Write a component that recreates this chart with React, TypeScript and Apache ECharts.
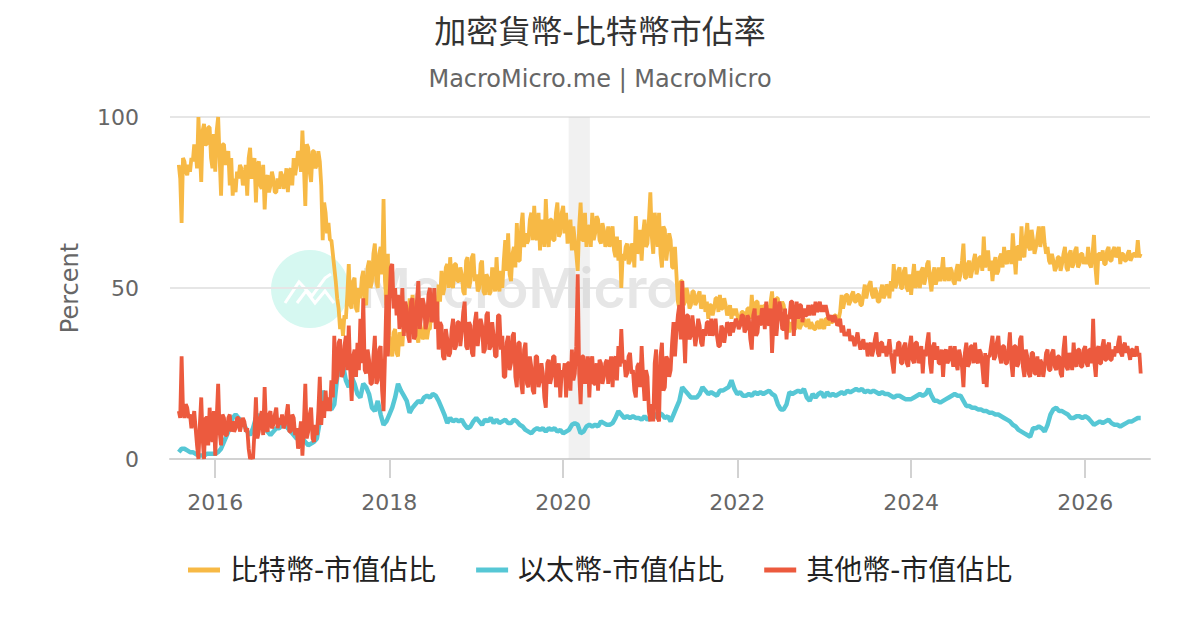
import React, { useEffect, useRef } from "react";
import * as echarts from "echarts";

const TITLE = "加密貨幣-比特幣市佔率";
const SUBTITLE = "MacroMicro.me | MacroMicro";
const SERIES_NAMES = ["比特幣-市值佔比", "以太幣-市值佔比", "其他幣-市值佔比"];
const TICK_YEARS = [2016, 2018, 2020, 2022, 2024, 2026];
const SPAN_YEARS = [2015, 2016, 2017, 2018, 2019, 2020, 2021, 2022, 2023, 2024, 2025, 2026];

const btc2015 = [86, 82, 69, 88, 87, 84, 83, 86, 84, 88, 87, 92, 90, 85, 100, 90, 81, 96, 98, 92, 92, 97, 97, 88, 85, 95];
const btc2016 = [84, 96, 100, 88, 77, 92, 92, 86, 88, 90, 80, 88, 77, 82, 78, 84, 82, 86, 85, 80, 82, 86, 77, 88, 91, 82, 84, 88, 75, 86, 87, 80, 79, 86, 73, 82, 83, 78, 80, 84, 82, 78, 78, 82, 79, 84, 83, 79, 81, 85, 78, 84, 85, 80, 88, 83, 86, 90, 89, 84];
const btc2017 = [96, 86, 74, 92, 91, 84, 81, 90, 90, 85, 86, 90, 87, 80, 64, 75, 72, 66, 69, 64, 64, 60, 56, 52, 47, 44, 38, 41, 36, 42, 41, 48, 57, 45, 44, 52, 53, 44, 43, 50, 47, 53, 55, 46, 45, 56, 58, 50, 52, 60, 63, 52, 50, 60, 62, 54, 76, 52, 45, 60];
const btc2018 = [36, 32, 30, 37, 38, 31, 30, 37, 36, 33, 40, 37, 42, 38, 47, 42, 48, 42, 41, 36, 34, 40, 38, 35, 36, 40, 35, 38, 38, 44, 44, 40, 46, 42, 51, 46, 55, 48, 50, 56, 57, 50, 59, 52, 50, 57, 57, 52, 52, 56, 54, 49, 48, 58, 59, 50, 52, 59, 60, 52];
const btc2019 = [54, 49, 50, 57, 58, 49, 48, 54, 53, 48, 49, 56, 52, 49, 59, 51, 49, 55, 50, 58, 64, 55, 66, 54, 52, 60, 62, 56, 69, 58, 58, 68, 72, 62, 66, 63, 64, 70, 72, 64, 74, 65, 64, 72, 61, 70, 68, 62, 76, 66, 62, 70, 70, 64, 64, 72, 75, 65, 66, 72];
const btc2020 = [74, 66, 72, 63, 66, 70, 61, 68, 64, 60, 55, 68, 75, 64, 64, 72, 62, 68, 68, 62, 72, 64, 66, 71, 70, 64, 63, 69, 67, 62, 64, 68, 62, 66, 68, 61, 59, 65, 58, 64, 50, 60, 58, 62, 63, 57, 58, 63, 62, 56, 71, 60, 62, 67, 58, 66, 70, 62, 63, 70];
const btc2021 = [78, 65, 60, 72, 68, 62, 72, 60, 56, 68, 67, 58, 62, 66, 64, 56, 56, 62, 54, 46, 44, 52, 52, 45, 46, 50, 48, 44, 45, 49, 49, 45, 46, 48, 49, 44, 45, 48, 43, 46, 41, 45, 45, 42, 44, 47, 47, 43, 48, 44, 44, 47, 45, 42, 43, 45, 41, 44, 42, 44];
const btc2022 = [42, 40, 41, 43, 43, 41, 41, 44, 44, 41, 48, 42, 42, 46, 46, 42, 43, 45, 42, 45, 45, 42, 42, 46, 49, 43, 44, 47, 47, 43, 44, 46, 45, 42, 42, 40, 37, 40, 39, 38, 38, 40, 41, 38, 39, 41, 41, 39, 39, 41, 38, 40, 39, 38, 38, 40, 40, 38, 41, 39];
const btc2023 = [38, 41, 41, 39, 42, 40, 40, 42, 42, 40, 41, 43, 48, 44, 46, 48, 48, 45, 46, 48, 49, 46, 46, 48, 48, 45, 45, 48, 51, 47, 49, 51, 52, 48, 47, 50, 49, 46, 46, 49, 51, 47, 48, 51, 50, 47, 52, 49, 57, 50, 51, 55, 56, 50, 50, 55, 56, 50, 49, 54];
const btc2024 = [48, 53, 57, 50, 52, 55, 50, 55, 56, 51, 53, 57, 58, 52, 49, 54, 56, 51, 53, 56, 52, 55, 59, 52, 54, 56, 52, 56, 55, 52, 51, 55, 57, 52, 54, 58, 63, 53, 53, 57, 58, 53, 55, 58, 60, 54, 56, 59, 59, 55, 65, 56, 58, 61, 55, 58, 52, 57, 59, 54];
const btc2025 = [55, 59, 60, 56, 62, 58, 57, 61, 60, 57, 66, 60, 54, 62, 62, 58, 68, 60, 59, 65, 69, 62, 61, 67, 64, 60, 62, 65, 68, 62, 66, 68, 63, 60, 62, 58, 57, 60, 58, 55, 56, 59, 59, 55, 57, 60, 62, 56, 55, 60, 61, 56, 57, 61, 62, 56, 57, 60, 60, 57];
const btc2026 = [59, 57, 62, 57, 56, 60, 65.5, 56, 51, 60, 60, 58, 61, 57, 57, 61, 62, 58, 58, 61, 62, 59, 60, 62, 57, 60, 60, 58, 58, 60, 61, 58, 59, 60, 60, 59, 64, 59, 60];

const eth2015 = [2, 3, 3, 2.5, 2, 2, 1.5, 1, 1, 1, 1.5, 1.5, 1.5];
const eth2016 = [1.5, 2, 3, 5, 7, 9, 12, 13, 12, 11, 10, 8, 7, 9, 12, 13, 11, 9, 8, 7, 8, 9, 9, 10, 10, 9, 8, 7, 6, 6];
const eth2017 = [6, 5, 4, 4.5, 5, 6, 11, 20, 17, 15, 14.5, 16, 24, 26, 27.5, 23, 21, 24, 22, 19, 18, 22, 21, 19, 15, 14, 17, 13, 10, 11];
const eth2018 = [13, 15, 18, 22, 20, 18.5, 17, 13.5, 15, 16, 17, 16.5, 18, 18.5, 18, 19, 18.5, 17, 15, 13, 10.5, 12, 11, 11.5, 11, 11.5, 10, 9, 9.5, 11];
const eth2019 = [12, 11, 10, 11.5, 11, 12, 10.5, 11.5, 10.5, 11, 11.5, 10.5, 10.5, 11.5, 11, 10, 9.5, 8.5, 8, 7.5, 8.5, 9, 8.5, 9, 8, 9, 8.5, 9, 8, 8.5];
const eth2020 = [7.5, 8, 8.5, 10, 10.5, 10, 7.5, 8, 9.5, 10, 9.5, 10, 9.5, 11, 10.5, 10, 10, 10.5, 12, 14, 13, 12, 12.5, 12, 12.5, 12, 12, 11.5, 12.5, 11.5];
const eth2021 = [12, 12, 13, 13.5, 13, 12, 12.5, 11, 13, 15, 17, 21, 20, 19, 18, 18, 18, 19, 21, 20, 19, 19.5, 19, 18.5, 20, 20, 20.5, 21, 23, 20.5];
const eth2022 = [19, 19.5, 18.5, 18.5, 19, 18.5, 19.5, 19, 19.5, 19, 19.5, 20, 19, 18.5, 16, 14.5, 14.5, 16, 19.5, 19, 19.5, 20, 19.5, 20.5, 18, 17, 19, 18, 19, 19.5];
const eth2023 = [18, 19.5, 18.5, 19, 18.5, 19, 19.5, 19, 20, 19.5, 20, 20.5, 20, 20.5, 19.5, 20, 19.5, 20, 19.5, 19, 19.5, 19, 19, 18.5, 18, 18.5, 18.5, 18, 17.5, 17.5];
const eth2024 = [17.5, 18, 18.5, 19, 18.5, 19, 20.5, 18.5, 17, 17, 16.5, 17, 17.5, 18, 18.5, 19, 18.5, 18.5, 17, 15.5, 15.5, 15, 15, 14.5, 14.5, 14, 14, 13.5, 13.5, 13];
const eth2025 = [13, 12.5, 12, 11.5, 11, 10, 9.5, 8.5, 8, 7.5, 7, 6.5, 9, 9, 9.5, 9, 8, 10, 13, 14.5, 15, 14, 14, 13.5, 13, 12, 12, 12.5, 12.5, 12];
const eth2026 = [12.5, 12, 11, 10, 10.5, 11, 10.5, 11, 11.5, 10.5, 10, 10, 9.5, 10, 10.5, 11, 11, 11.5, 12, 12];

const oth2015 = [14, 12, 30, 14, 12, 16, 15, 12, 13, 9, 11, 14, 9, 4, 0, 10, 18, 6, 0, 12, 12, 4, 15, 8, 5, 14];
const oth2016 = [1, 12, 22, 8, 4, 13, 12, 7, 7, 12, 13, 8, 11, 8, 9, 12, 12, 8, 10, 12, 11, 8, 9, 3, 0, 1, 0, 8, 18, 6, 8, 12, 14, 7, 21, 9, 8, 13, 14, 9, 10, 13, 15, 9, 12, 10, 13, 9, 10, 13, 16, 8, 8, 13, 12, 7, 9, 3, 7, 11];
const oth2017 = [1, 10, 22, 6, 8, 13, 15, 6, 5, 10, 7, 14, 24, 10, 17, 12, 20, 14, 18, 14, 23, 18, 36, 22, 24, 34, 35, 24, 25, 33, 36, 26, 39, 26, 17, 30, 32, 24, 34, 26, 41, 28, 47, 26, 25, 32, 29, 22, 22, 30, 36, 22, 23, 32, 33, 20, 14, 30, 48, 30];
const oth2018 = [46, 56, 57, 44, 50, 42, 48, 38, 42, 50, 36, 46, 44, 36, 34, 46, 47, 35, 36, 46, 52, 38, 42, 47, 45, 38, 40, 48, 50, 40, 42, 50, 38, 46, 32, 40, 39, 30, 29, 38, 35, 30, 31, 38, 41, 32, 33, 40, 40, 33, 37, 43, 46, 33, 32, 40, 39, 31, 30, 40];
const oth2019 = [43, 33, 37, 41, 39, 31, 32, 42, 43, 32, 33, 40, 36, 30, 30, 42, 42, 32, 36, 24, 24, 34, 36, 26, 28, 36, 37, 24, 21, 34, 34, 22, 19, 32, 34, 22, 21, 30, 27, 20, 19, 30, 30, 21, 23, 28, 25, 18, 15, 28, 29, 22, 24, 30, 30, 21, 24, 28, 18, 26];
const oth2020 = [24, 28, 18, 28, 28, 20, 32, 23, 25, 33, 54, 25, 16, 30, 30, 22, 26, 30, 18, 28, 30, 22, 22, 28, 20, 29, 28, 22, 24, 28, 29, 22, 27, 30, 21, 29, 30, 23, 33, 27, 38, 28, 29, 24, 25, 30, 31, 25, 26, 20, 18, 27, 28, 21, 33, 24, 17, 26, 24, 14];
const oth2021 = [11, 16, 11, 28, 32, 12, 11, 30, 34, 20, 21, 30, 29, 24, 26, 34, 40, 30, 37, 42, 45, 35, 52, 38, 28, 42, 42, 35, 36, 42, 38, 33, 36, 41, 39, 34, 33, 38, 36, 40, 40, 36, 41, 36, 38, 41, 36, 33, 33, 39, 38, 34, 37, 40, 39, 36, 40, 37, 39, 41];
const oth2022 = [40, 38, 39, 42, 42, 37, 38, 42, 41, 35, 32, 42, 44, 36, 37, 42, 39, 44, 43, 38, 46, 40, 39, 44, 31, 40, 47, 36, 41, 46, 44, 38, 38, 44, 35, 42, 41, 46, 46, 36, 42, 46, 41, 45, 45, 40, 44, 42, 42, 45, 42, 44, 45, 42, 46, 43, 44, 46, 43, 45];
const oth2023 = [43, 45, 43, 41, 41, 42, 40, 42, 41, 39, 39.5, 41, 37, 39, 36, 37, 36, 38, 34.5, 36, 35, 33, 35, 37, 34, 32, 33.5, 35, 32, 34, 30, 33, 34, 30, 32, 35, 37, 31, 30, 34, 34, 31, 33, 30, 32, 35, 31, 28, 25, 32, 30, 34, 34, 28, 28, 33, 34, 28, 27, 33];
const oth2024 = [36, 29, 28, 34, 34, 28, 30, 33, 25, 32, 30, 34, 37, 28, 25, 33, 34, 29, 33, 28, 28, 32, 24, 31, 32, 28, 29, 33, 30, 27, 33, 28, 26, 32, 30, 27, 21, 31, 34, 27, 28, 33, 33, 28, 34, 29, 28, 32, 31, 27, 22, 31, 21, 30, 30, 33, 36, 29, 30, 34];
const oth2025 = [36, 30, 28, 33, 33, 28, 28, 32, 37, 28, 24, 33, 33, 27, 28, 35, 36, 27, 24, 32, 30, 25, 24, 31, 31, 25, 25, 30, 24, 29, 28, 24, 27, 31, 32, 26, 26, 31, 32, 27, 26, 30, 30, 25, 24, 32, 36, 27, 26, 31, 29, 26, 34, 28, 27, 32, 32, 27, 27, 32];
const oth2026 = [33, 28, 27, 32, 32, 28, 41, 28, 24, 32, 33, 28, 28, 33, 35, 29, 29, 33, 34, 29, 29, 32, 30, 33, 31, 34, 36, 31, 30, 33, 34, 31, 33, 31, 29, 32, 32, 30, 31, 33, 30, 31, 25];

const btcYears = [btc2015, btc2016, btc2017, btc2018, btc2019, btc2020, btc2021, btc2022, btc2023, btc2024, btc2025, btc2026];
const ethYears = [eth2015, eth2016, eth2017, eth2018, eth2019, eth2020, eth2021, eth2022, eth2023, eth2024, eth2025, eth2026];
const othYears = [oth2015, oth2016, oth2017, oth2018, oth2019, oth2020, oth2021, oth2022, oth2023, oth2024, oth2025, oth2026];

const SERIES_START = Date.UTC(2015, 7, 1);
const SERIES_END = Date.UTC(2026, 7, 22);
const BAND_START = Date.UTC(2020, 0, 24);
const BAND_END = Date.UTC(2020, 3, 22);
const AXIS_MIN = Date.UTC(2015, 5, 25);
const AXIS_MAX = Date.UTC(2026, 8, 30);

function toPoints(byYear: number[][]): [number, number][] {
  const out: [number, number][] = [];
  byYear.forEach((vals, k) => {
    const year = SPAN_YEARS[k];
    const from = Math.max(Date.UTC(year, 0, 1), SERIES_START);
    const to = Math.min(Date.UTC(year + 1, 0, 1), SERIES_END);
    const last = year === 2026;
    vals.forEach((v, i) => {
      out.push([from + ((to - from) * i) / (last ? vals.length - 1 : vals.length), v]);
    });
  });
  return out;
}

const FONT = '"DejaVu Sans", "Noto Sans CJK TC", sans-serif';
const COLORS = ["#f7b945", "#56c7d5", "#ec5a3e"];
const WIDTHS = [3.8, 4.5, 3.8];

export default function App() {
  const ref = useRef<HTMLDivElement>(null);
  useEffect(() => {
    const chart = echarts.init(ref.current!, null, { renderer: "svg" });
    const tickValues = TICK_YEARS.map((y) => Date.UTC(y, 0, 1));
    const data = [btcYears, ethYears, othYears];
    chart.setOption({
      animation: false,
      backgroundColor: "#fff",
      color: COLORS,
      title: {
        text: TITLE,
        subtext: SUBTITLE,
        left: "center",
        top: 11,
        itemGap: 19,
        textStyle: { fontFamily: FONT, fontSize: 32, fontWeight: "normal", color: "#333" },
        subtextStyle: { fontFamily: FONT, fontSize: 24, color: "#666" },
      },
      legend: {
        left: 188,
        top: 556,
        padding: 0,
        icon: "rect",
        itemWidth: 32,
        itemHeight: 5,
        itemGap: 40,
        textStyle: { fontFamily: FONT, fontSize: 28, color: "#222", padding: [0, 0, 0, 5] },
        data: SERIES_NAMES,
      },
      grid: { left: 170, right: 50, top: 117, bottom: 171 },
      xAxis: {
        type: "value",
        min: AXIS_MIN,
        max: AXIS_MAX,
        axisLine: { lineStyle: { color: "#d2d2d2", width: 2 } },
        axisTick: { length: 19, customValues: tickValues, lineStyle: { color: "#d2d2d2", width: 2 } },
        axisLabel: {
          customValues: tickValues,
          formatter: (v: number) => String(new Date(v).getUTCFullYear()),
          fontFamily: FONT,
          fontSize: 22,
          color: "#666",
          margin: 32,
          hideOverlap: false,
        },
        splitLine: { show: false },
      },
      yAxis: {
        type: "value",
        min: 0,
        max: 100,
        interval: 50,
        name: "Percent",
        nameLocation: "middle",
        nameGap: 88,
        nameTextStyle: { fontFamily: FONT, fontSize: 24, color: "#666" },
        axisLine: { show: false },
        axisTick: { show: false },
        axisLabel: { fontFamily: FONT, fontSize: 22, color: "#666", margin: 31 },
        splitLine: { lineStyle: { color: "#e6e6e6", width: 2 } },
      },
      graphic: [
        {
          type: "group",
          silent: true,
          z: -1,
          children: [
            { type: "circle", z: -1, shape: { cx: 310, cy: 289, r: 39 }, style: { fill: "#d6f8f1" } },
            {
              type: "polyline",
              z: -1,
              shape: { points: [[285, 303], [299, 282], [312, 296], [325, 278], [331, 274]] },
              style: { stroke: "#fff", lineWidth: 3, fill: "none" },
            },
            {
              type: "polyline",
              z: -1,
              shape: { points: [[297, 303], [306, 291], [315, 303], [325, 291], [334, 303]] },
              style: { stroke: "#fff", lineWidth: 3, fill: "none" },
            },
            {
              type: "text",
              z: -1,
              style: {
                x: 360,
                y: 260,
                text: "MacroMicro",
                fontFamily: "Inter, sans-serif",
                fontSize: 55,
                fontWeight: 600,
                fill: "#e6e6e6",
              },
            },
          ],
        },
      ],
      series: data.map((byYear, k) => ({
        name: SERIES_NAMES[k],
        type: "line",
        showSymbol: false,
        symbol: "none",
        lineStyle: { width: WIDTHS[k], color: COLORS[k] },
        itemStyle: { color: COLORS[k] },
        data: toPoints(byYear),
        ...(k === 0
          ? {
              markArea: {
                silent: true,
                itemStyle: { color: "rgba(200,200,200,0.25)" },
                data: [[{ xAxis: BAND_START }, { xAxis: BAND_END }]],
              },
            }
          : {}),
      })),
    });
    return () => chart.dispose();
  }, []);
  return (
    <div
      ref={ref}
      style={{ position: "absolute", left: 0, top: 0, width: 1200, height: 630 }}
    />
  );
}
